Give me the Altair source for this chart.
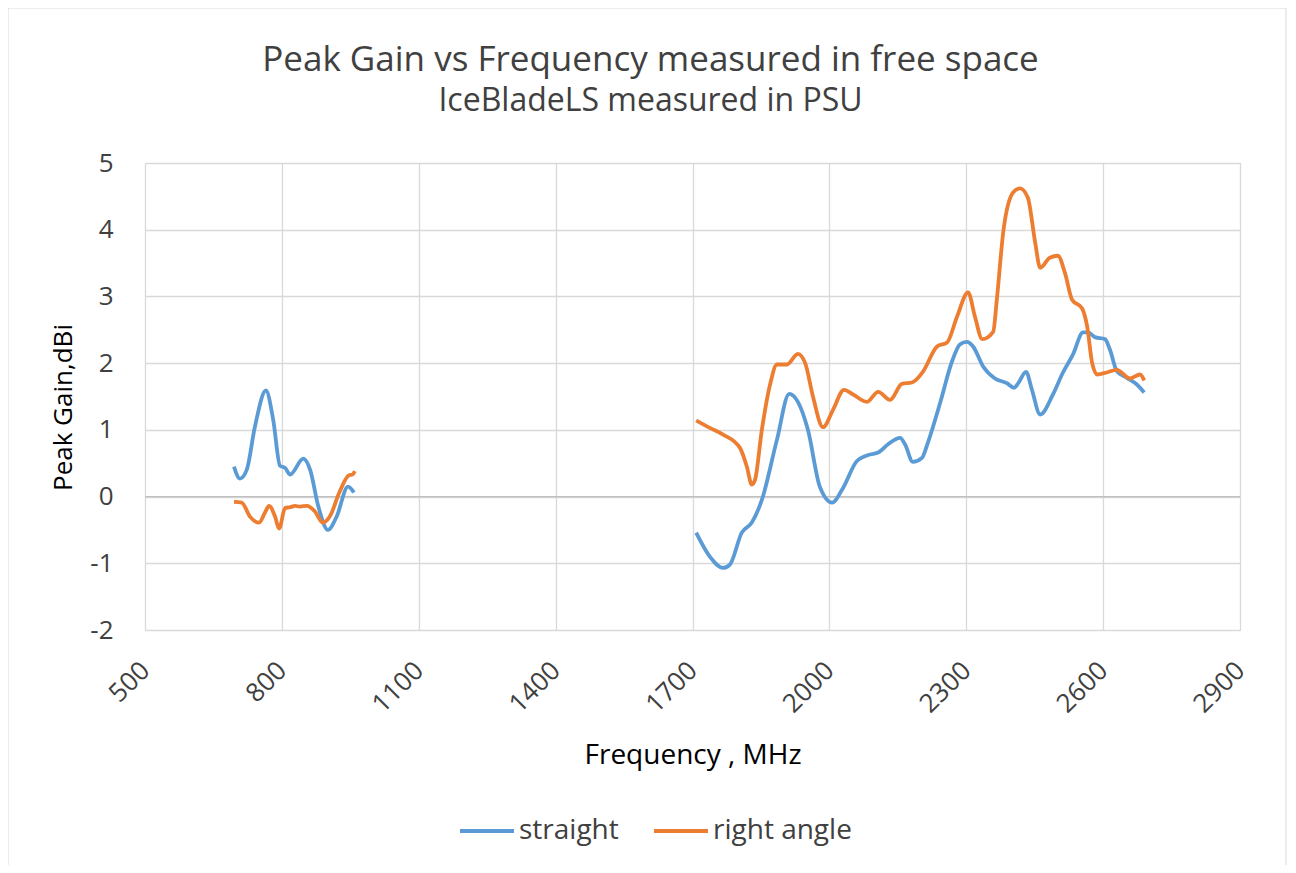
import altair as alt
import pandas as pd

# ---- data ----
series_names = ["straight", "right angle"]
series_colors = ["#5B9BD5", "#ED7D31"]

straight_low_f = [695, 708, 723, 741, 765, 781, 796, 807, 818, 847, 862, 880, 901, 920, 945, 958]
straight_low_v = [0.45, 0.27, 0.40, 1.05, 1.59, 1.15, 0.46, 0.43, 0.33, 0.57, 0.40, -0.15, -0.50, -0.30, 0.15, 0.06]

right_low_f = [695, 712, 730, 750, 763, 772, 785, 794, 807, 818, 829, 840, 855, 872, 890, 905, 927, 947, 955, 960]
right_low_v = [-0.08, -0.09, -0.30, -0.39, -0.24, -0.14, -0.30, -0.48, -0.17, -0.16, -0.14, -0.15, -0.14, -0.22,
               -0.39, -0.30, 0.08, 0.32, 0.33, 0.38]

straight_high_f = [1708, 1738, 1767, 1782, 1808, 1830, 1852, 1885, 1912, 1931, 1953, 1979, 2006, 2030, 2060, 2089,
                   2107, 2128, 2155, 2166, 2183, 2203, 2216, 2243, 2268, 2286, 2301, 2315, 2337, 2363, 2389, 2405,
                   2414, 2431, 2444, 2462, 2490, 2512, 2534, 2556, 2567, 2582, 2604, 2615, 2630, 2652, 2674, 2690]
straight_high_v = [-0.54, -0.90, -1.07, -1.02, -0.54, -0.39, -0.05, 0.85, 1.54, 1.42, 1.00, 0.15, -0.09, 0.13, 0.53,
                   0.63, 0.66, 0.78, 0.88, 0.78, 0.52, 0.58, 0.81, 1.41, 2.01, 2.28, 2.32, 2.25, 1.95, 1.77, 1.70,
                   1.63, 1.70, 1.87, 1.60, 1.23, 1.53, 1.86, 2.13, 2.46, 2.46, 2.39, 2.36, 2.20, 1.88, 1.78, 1.68, 1.56]

right_high_f = [1708, 1738, 1767, 1804, 1819, 1830, 1837, 1852, 1870, 1885, 1907, 1931, 1947, 1964, 1986, 2008, 2032,
                2052, 2082, 2107, 2133, 2159, 2181, 2205, 2236, 2258, 2280, 2304, 2319, 2335, 2359, 2367, 2381, 2403,
                2418, 2435, 2451, 2462, 2483, 2501, 2516, 2532, 2554, 2565, 2576, 2587, 2608, 2630, 2659, 2681, 2690]
right_high_v = [1.14, 1.03, 0.93, 0.73, 0.45, 0.18, 0.25, 1.00, 1.68, 1.98, 1.98, 2.14, 2.00, 1.50, 1.04, 1.30, 1.60,
                1.53, 1.42, 1.57, 1.45, 1.69, 1.71, 1.87, 2.25, 2.31, 2.70, 3.06, 2.70, 2.36, 2.47, 2.95, 3.96, 4.56,
                4.62, 4.48, 3.81, 3.43, 3.58, 3.61, 3.36, 2.95, 2.82, 2.55, 2.00, 1.83, 1.86, 1.90, 1.77, 1.83, 1.74]

x_ticks = [500, 800, 1100, 1400, 1700, 2000, 2300, 2600, 2900]
y_ticks = [-2, -1, 0, 1, 2, 3, 4, 5]

rows = []
for name, seg, fs, vs in [
    ("straight", "s-low", straight_low_f, straight_low_v),
    ("straight", "s-high", straight_high_f, straight_high_v),
    ("right angle", "r-low", right_low_f, right_low_v),
    ("right angle", "r-high", right_high_f, right_high_v),
]:
    for f, v in zip(fs, vs):
        rows.append({"series": name, "segment": seg, "f": f, "v": v})
df = pd.DataFrame(rows)

FONT = "Open Sans"
W, H = 1095, 467
plain_label = "datum.value < 0 ? '-' + abs(datum.value) : '' + datum.value"

x_scale = alt.Scale(domain=[500, 2900], nice=False, zero=False)
y_scale = alt.Scale(domain=[-2, 5], nice=False, zero=False)

border = alt.Chart(pd.DataFrame({"a": [0]})).mark_rect(
    filled=False, stroke="#D9D9D9", strokeWidth=1
).encode(
    x=alt.value(-137), x2=alt.value(1141), y=alt.value(-155), y2=alt.value(720)
)

zero_rule = alt.Chart(pd.DataFrame({"v": [0]})).mark_rule(color="#BFBFBF", strokeWidth=1.3).encode(
    y=alt.Y("v:Q", scale=y_scale)
)

lines = alt.Chart(df).mark_line(strokeWidth=3.8, interpolate="monotone").encode(
    x=alt.X("f:Q", scale=x_scale, title="Frequency , MHz",
            axis=alt.Axis(values=x_ticks, grid=True, gridColor="#D9D9D9", gridWidth=1.3,
                          domain=False, ticks=False, labelAngle=315, labelAlign="right",
                          labelBaseline="middle", labelPadding=36, labelFontSize=26,
                          labelFont=FONT, labelColor="#404040", labelExpr=plain_label,
                          titleFont=FONT, titleFontSize=28, titleFontWeight="normal",
                          titleColor="#000000", titleY=125, titleBaseline="middle")),
    y=alt.Y("v:Q", scale=y_scale, title="Peak Gain,dBi",
            axis=alt.Axis(values=y_ticks, grid=True, gridColor="#D9D9D9", gridWidth=1.3,
                          domain=False, ticks=False, labelPadding=32, labelFontSize=26,
                          labelFont=FONT, labelColor="#404040", labelExpr=plain_label,
                          titleFont=FONT, titleFontSize=26, titleFontWeight="normal",
                          titleColor="#000000", titleAngle=270, titleX=-82, titleY=244,
                          titleAlign="center", titleBaseline="middle")),
    color=alt.Color("series:N", scale=alt.Scale(domain=series_names, range=series_colors),
                    legend=alt.Legend(title=None, orient="none", direction="horizontal",
                                      legendX=313, legendY=639, symbolType="stroke",
                                      symbolSize=2916, symbolStrokeWidth=4,
                                      labelFont=FONT, labelFontSize=28, labelColor="#404040",
                                      labelOffset=3, columnPadding=27)),
    detail="segment:N",
)

chart = alt.layer(border, zero_rule, lines).properties(
    width=W, height=H,
    title=alt.TitleParams(
        text="Peak Gain vs Frequency measured in free space",
        subtitle="IceBladeLS measured in PSU",
        font=FONT, fontSize=35, fontWeight="normal", color="#404040",
        subtitleFont=FONT, subtitleFontSize=32, subtitleFontWeight="normal",
        subtitleColor="#404040", subtitlePadding=8,
        anchor="middle", frame="group", dx=-42, dy=76, baseline="top", offset=-33,
    ),
    padding={"left": 137, "top": 155, "right": 48, "bottom": 235},
    autosize=alt.AutoSizeParams(type="none"),
).configure_view(stroke=None).configure(background="white")

chart.save("out.html", embed_options={"renderer": "svg", "actions": False})
